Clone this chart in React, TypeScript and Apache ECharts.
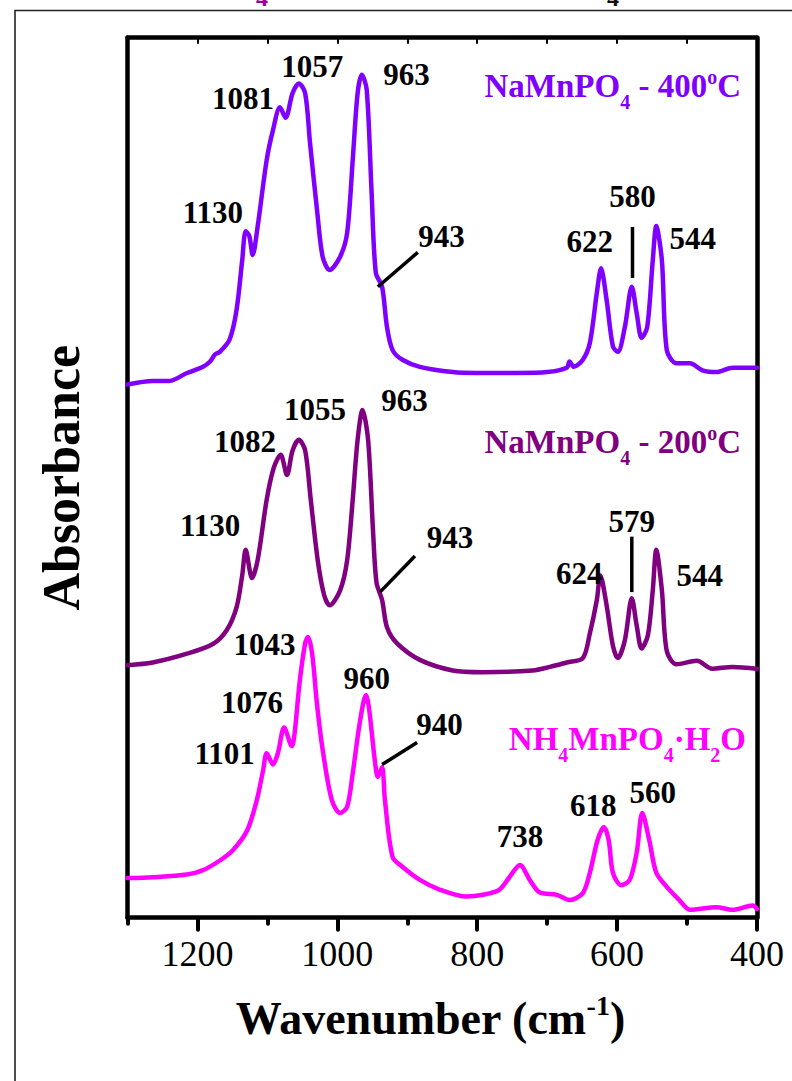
import React, { useEffect, useRef } from "react";
import * as echarts from "echarts";

const FONT = '"Liberation Serif", "Times New Roman", Times, serif';

// x-axis ticks (wavenumber, cm-1)
const majorTicks = [400, 600, 800, 1000, 1200];
const minorTicks = [500, 700, 900, 1100, 1300];
const topTicks = [500, 600, 700, 800, 900, 1000, 1100, 1200];

// Spectra: [wavenumber, absorbance (stacked, arbitrary units)]
const naMnPO4_400: number[][] = [
  [1300, 60.6], [1264, 61.0], [1240, 61.0], [1215, 61.9], [1192, 62.6], [1182, 63.2],
  [1175, 64.0], [1168, 64.3], [1154, 65.7], [1144, 69.1], [1136, 74.7], [1131, 78.0],
  [1126, 77.5], [1121, 75.3], [1114, 78.5], [1101, 86.1], [1092, 89.5], [1082, 92.1],
  [1074, 90.9], [1064, 93.7], [1055, 94.8], [1046, 93.7], [1039, 88.0], [1029, 80.4],
  [1021, 75.1], [1011, 73.6], [996, 75.1], [986, 77.8], [978, 86.1], [971, 93.7],
  [965, 95.8], [958, 94.1], [951, 82.4], [945, 73.3], [936, 71.7], [929, 67.1],
  [921, 64.5], [907, 63.4], [882, 62.6], [835, 62.0], [800, 61.9], [743, 61.9],
  [700, 62.0], [672, 62.5], [668, 63.2], [662, 62.6], [649, 63.4], [639, 65.3],
  [629, 71.0], [623, 73.8], [615, 70.2], [606, 64.9], [599, 64.3], [589, 67.1],
  [579, 71.7], [572, 68.7], [565, 65.9], [557, 67.1], [549, 74.7], [544, 78.6],
  [536, 74.7], [529, 64.5], [515, 63.0], [496, 63.0], [478, 62.2], [458, 62.0],
  [435, 62.5], [400, 62.5],
];

const naMnPO4_200: number[][] = [
  [1300, 28.7], [1264, 29.0], [1215, 30.0], [1178, 31.1], [1158, 32.7], [1144, 35.3],
  [1136, 38.9], [1131, 41.8], [1122, 38.6], [1114, 40.6], [1101, 47.5], [1091, 51.1],
  [1081, 52.6], [1072, 50.3], [1064, 53.1], [1055, 54.3], [1046, 53.1], [1038, 47.5],
  [1028, 40.6], [1019, 36.7], [1011, 35.5], [996, 37.2], [986, 40.6], [978, 47.5],
  [971, 54.3], [964, 57.7], [956, 54.3], [949, 44.0], [944, 38.1], [936, 36.1],
  [929, 33.0], [915, 31.2], [882, 29.3], [835, 28.1], [792, 27.9], [721, 28.1],
  [696, 28.5], [672, 29.0], [649, 29.5], [639, 32.3], [629, 36.1], [624, 38.9],
  [615, 35.5], [606, 30.9], [599, 29.5], [589, 31.5], [579, 36.3], [572, 33.2],
  [565, 30.6], [556, 32.1], [549, 37.2], [544, 41.8], [536, 37.2], [529, 30.3],
  [515, 28.8], [486, 29.2], [464, 28.3], [435, 28.5], [400, 28.3],
];

const nh4MnPO4H2O: number[][] = [
  [1300, 4.5], [1264, 4.6], [1215, 4.9], [1192, 5.4], [1168, 6.5], [1149, 7.7],
  [1129, 9.9], [1115, 13.4], [1106, 16.8], [1101, 18.7], [1092, 17.4], [1085, 18.7],
  [1076, 21.6], [1065, 19.5], [1061, 21.0], [1054, 26.7], [1046, 31.2], [1042, 31.9],
  [1036, 30.0], [1029, 24.2], [1021, 19.1], [1008, 13.4], [996, 11.9], [986, 12.6],
  [978, 16.4], [968, 22.1], [959, 25.3], [955, 24.0], [946, 17.6], [942, 16.0],
  [936, 17.1], [932, 13.4], [921, 6.9], [907, 5.8], [882, 4.3], [854, 3.2],
  [815, 2.4], [792, 2.6], [768, 3.2], [754, 4.6], [739, 6.0], [725, 4.3],
  [711, 2.9], [686, 2.6], [668, 2.0], [649, 2.8], [639, 5.1], [628, 8.8],
  [619, 10.3], [612, 8.8], [606, 5.1], [594, 3.7], [582, 4.3], [572, 7.4],
  [564, 11.9], [554, 8.8], [544, 5.1], [529, 3.5], [511, 2.0], [496, 0.9],
  [458, 1.2], [435, 0.9], [406, 1.4], [400, 1.0],
];

// Peak annotations: [wavenumber, y, text]
const peakLabels: [number, number, string][] = [
  [1036, 96.7, "1057"], [1135, 93.1, "1081"], [901, 95.8, "963"], [1178, 80.1, "1130"],
  [851, 77.4, "943"], [578, 81.9, "580"], [639, 76.8, "622"], [492, 77.2, "544"],
  [1032, 57.7, "1055"], [904, 58.8, "963"], [1132, 54.1, "1082"], [1182, 44.6, "1130"],
  [839, 43.2, "943"], [579, 45.0, "579"], [654, 39.1, "624"], [482, 38.9, "544"],
  [1104, 31.0, "1043"], [1122, 24.4, "1076"], [1161, 18.7, "1101"], [958, 27.2, "960"],
  [854, 21.9, "940"], [739, 9.2, "738"], [634, 12.8, "618"], [549, 14.2, "560"],
];

// Leader lines: pairs of [wavenumber, y]
const leaderLines: number[][][] = [
  [[942, 71.7], [885, 75.6]],
  [[578, 78.5], [578, 72.7]],
  [[939, 37.0], [889, 41.1]],
  [[579, 43.3], [579, 37.0]],
  [[936, 17.4], [886, 19.9]],
];

const C400 = "#8000ff";
const C200 = "#800080";
const CNH4 = "#ff00ff";

function legendText(x: number, y: number, text: string, color: string) {
  const base = { fontFamily: FONT, fontWeight: "bold", fill: color, color };
  return {
    type: "text",
    x,
    y,
    z: 10,
    style: {
      text,
      align: "right",
      verticalAlign: "middle",
      rich: {
        m: { ...base, fontSize: 33, lineHeight: 33 },
        s: { ...base, fontSize: 20, lineHeight: 20, padding: [31, 0, 0, 0] },
        o: { ...base, fontSize: 20, lineHeight: 20, padding: [0, 0, 18, 0] },
      },
    },
  };
}

export default function App() {
  const ref = useRef<HTMLDivElement>(null);
  useEffect(() => {
    if (!ref.current) return;
    const chart = echarts.init(ref.current, undefined, { renderer: "svg" });
    const xCommon = { type: "value", min: 400, max: 1300, inverse: true, splitLine: { show: false } };
    const option: any = {
      animation: false,
      backgroundColor: "#fff",
      grid: { left: 127.5, right: 35, top: 37.7, bottom: 163.3, containLabel: false },
      xAxis: [
        {
          ...xCommon,
          position: "bottom",
          axisLine: { show: true, onZero: false, lineStyle: { color: "#000", width: 4.5, cap: "round" } },
          axisTick: { show: true, inside: false, length: 12, customValues: majorTicks, lineStyle: { color: "#000", width: 4, cap: "round" } },
          axisLabel: {
            show: true,
            customValues: majorTicks,
            margin: 18,
            fontSize: 36,
            fontFamily: FONT,
            color: "#000",
            formatter: (v: number) => String(v),
          },
          name: "{b|Wavenumber (cm}{sup|-1}{b|)}",
          nameLocation: "middle",
          nameGap: 78,
          nameTextStyle: {
            padding: [0, 24, 0, 0],
            rich: {
              b: { fontSize: 46, fontWeight: "bold", fontFamily: FONT, color: "#000", lineHeight: 46 },
              sup: { fontSize: 28, fontWeight: "bold", fontFamily: FONT, color: "#000", lineHeight: 28, padding: [0, 0, 26, 0] },
            },
          },
        },
        {
          ...xCommon,
          position: "bottom",
          axisLine: { show: false, onZero: false },
          axisTick: { show: true, inside: false, length: 6, customValues: minorTicks, lineStyle: { color: "#000", width: 4, cap: "round" } },
          axisLabel: { show: false },
        },
        {
          ...xCommon,
          position: "top",
          axisLine: { show: true, onZero: false, lineStyle: { color: "#000", width: 4.5, cap: "round" } },
          axisTick: { show: true, inside: true, length: 6, customValues: topTicks, lineStyle: { color: "#000", width: 2 } },
          axisLabel: { show: false },
        },
      ],
      yAxis: [
        {
          type: "value",
          min: 0,
          max: 100,
          position: "left",
          axisLine: { show: true, onZero: false, lineStyle: { color: "#000", width: 4.5, cap: "round" } },
          axisTick: { show: false },
          axisLabel: { show: false },
          splitLine: { show: false },
          name: "Absorbance",
          nameLocation: "middle",
          nameRotate: 90,
          nameGap: 40,
          nameTextStyle: { fontSize: 52, fontWeight: "bold", fontFamily: FONT, color: "#000" },
        },
        {
          type: "value",
          min: 0,
          max: 100,
          position: "right",
          axisLine: { show: true, onZero: false, lineStyle: { color: "#000", width: 4.5, cap: "round" } },
          axisTick: { show: false },
          axisLabel: { show: false },
          splitLine: { show: false },
        },
      ],
      series: [
        ...[
          { name: "NaMnPO4 - 400°C", data: naMnPO4_400, color: C400 },
          { name: "NaMnPO4 - 200°C", data: naMnPO4_200, color: C200 },
          { name: "NH4MnPO4·H2O", data: nh4MnPO4H2O, color: CNH4 },
        ].map((s) => ({
          type: "line",
          name: s.name,
          data: s.data,
          xAxisIndex: 0,
          yAxisIndex: 0,
          symbol: "none",
          smooth: 0.3,
          silent: true,
          lineStyle: { color: s.color, width: 4.5, cap: "round", join: "round" },
        })),
        ...leaderLines.map((seg) => ({
          type: "line",
          data: seg,
          xAxisIndex: 0,
          yAxisIndex: 0,
          symbol: "none",
          silent: true,
          lineStyle: { color: "#000", width: 3.5 },
        })),
        {
          type: "scatter",
          xAxisIndex: 0,
          yAxisIndex: 0,
          symbolSize: 0.01,
          itemStyle: { color: "#000" },
          silent: true,
          data: peakLabels.map((p) => ({ value: [p[0], p[1]], name: p[2] })),
          label: {
            show: true,
            position: "inside",
            formatter: "{b}",
            fontSize: 31,
            fontWeight: "bold",
            fontFamily: FONT,
            color: "#000",
            textBorderWidth: 0,
            opacity: 1,
          },
          z: 5,
        },
      ],
      graphic: [
        {
          type: "rect",
          z: -1,
          shape: { x: 15, y: 10.5, width: 820, height: 1120 },
          style: { fill: "none", stroke: "#222", lineWidth: 1.6 },
        },
        {
          type: "text",
          x: 262,
          y: -2,
          style: { text: "4", fontSize: 24, fontWeight: "bold", fontFamily: FONT, fill: "#990099", align: "center", verticalAlign: "middle" },
        },
        {
          type: "text",
          x: 613,
          y: -2,
          style: { text: "4", fontSize: 24, fontWeight: "bold", fontFamily: FONT, fill: "#111", align: "center", verticalAlign: "middle" },
        },
        legendText(741, 86, "{m|NaMnPO}{s|4}{m| - 400}{o|o}{m|C}", C400),
        legendText(741, 442, "{m|NaMnPO}{s|4}{m| - 200}{o|o}{m|C}", C200),
        legendText(746, 739, "{m|NH}{s|4}{m|MnPO}{s|4}{m|·H}{s|2}{m|O}", CNH4),
      ],
    };
    chart.setOption(option);
    return () => chart.dispose();
  }, []);
  return (
    <div
      ref={ref}
      style={{ position: "absolute", left: 0, top: 0, width: 792, height: 1081, background: "#fff" }}
    />
  );
}
